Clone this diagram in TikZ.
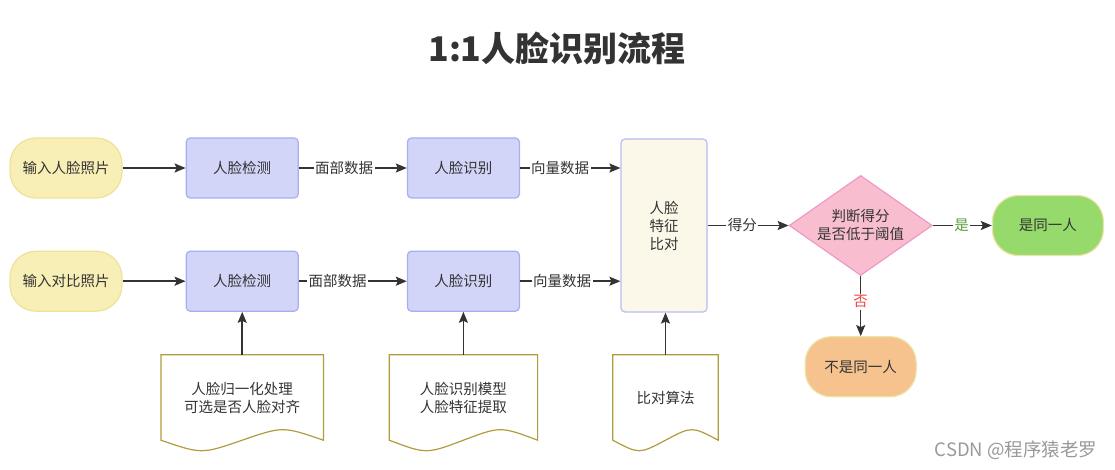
\documentclass[tikz,border=0pt]{standalone}
\usepackage{fontspec}
\setmainfont{Noto Sans CJK SC}
\usetikzlibrary{positioning, arrows.meta, calc, shapes.geometric}
\definecolor{txt}{HTML}{333333}
\definecolor{startfill}{HTML}{F8EFB6}
\definecolor{startborder}{HTML}{EEE29B}
\definecolor{stepfill}{HTML}{D2D5F8}
\definecolor{stepborder}{HTML}{A8AEF4}
\definecolor{cmpfill}{HTML}{FBF8E9}
\definecolor{cmpborder}{HTML}{B9BCF2}
\definecolor{judgefill}{HTML}{F8BED0}
\definecolor{judgeborder}{HTML}{EE98C8}
\definecolor{yesfill}{HTML}{97DA6C}
\definecolor{nofill}{HTML}{F6C38F}
\definecolor{endborder}{HTML}{EDE3A6}
\definecolor{docborder}{HTML}{B09C3E}
\definecolor{yestext}{HTML}{5A9E3A}
\definecolor{notext}{HTML}{EE4444}
\definecolor{gray60}{HTML}{999999}

\begin{document}
\begin{tikzpicture}[
    x=1pt, y=1pt,
    node distance=52pt and 63pt,
    every node/.style={text=txt, font=\fontsize{14.5pt}{18pt}\selectfont},
    startbox/.style={draw=startborder, fill=startfill, line width=1.2pt, rounded corners=26pt,
                     minimum width=112pt, minimum height=60pt},
    stepbox/.style={draw=stepborder, fill=stepfill, line width=1.2pt, rounded corners=4pt,
                    minimum width=112pt, minimum height=60pt},
    cmpbox/.style={draw=cmpborder, fill=cmpfill, line width=1.2pt, rounded corners=4pt,
                   minimum width=86pt, minimum height=173pt, align=center},
    judgebox/.style={diamond, aspect=1.43, draw=judgeborder, fill=judgefill, line width=1.2pt,
                     inner sep=1pt, minimum width=143pt, minimum height=100pt, align=center},
    endbox/.style={draw=endborder, line width=1.2pt, rounded corners=26pt,
                   minimum width=111pt, minimum height=60pt},
    docbox/.style={minimum height=85pt, align=center},
    docline/.style={draw=docborder, line width=1.2pt},
    elabel/.style={fill=white, inner sep=1.5pt},
    arrow/.style={-{Stealth[length=11pt, width=9pt, inset=2pt]}, draw=txt, line width=1.5pt},
]
\useasboundingbox (0,0) rectangle (1115,469);

% ============================================================
% Title
% ============================================================
\node[font=\fontsize{34pt}{40pt}\selectfont\bfseries] (title) at (557,421) {1:1人脸识别流程};

% ============================================================
% Two input rows
% ============================================================
\node[startbox] (in1) at (66,301) {输入人脸照片};
\node[stepbox, right=63pt of in1] (det1) {人脸检测};
\node[stepbox, right=108pt of det1] (rec1) {人脸识别};

\node[startbox, below=52pt of in1] (in2) {输入对比照片};
\node[stepbox, right=63pt of in2] (det2) {人脸检测};
\node[stepbox, right=108pt of det2] (rec2) {人脸识别};

% comparison and decision
\node[cmpbox] (cmp) at (664,243.5) {人脸\\特征\\比对};
\node[judgebox, right=81pt of cmp] (judge) {判断得分\\是否低于阈值};
\node[endbox, fill=yesfill, right=59pt of judge] (same) {是同一人};
\node[endbox, fill=nofill, below=60pt of judge] (diff) {不是同一人};

% ============================================================
% Documents (wave bottom)
% ============================================================
\node[docbox, minimum width=162pt] (doc1) at (det2 |- 0,71.5) {人脸归一化处理\\可选是否人脸对齐};
\node[docbox, minimum width=148pt] (doc2) at (rec2 |- 0,71.5) {人脸识别模型\\人脸特征提取};
\node[docbox, minimum width=105pt] (doc3) at (665.5,71.5) {比对算法};

\foreach \d in {doc1,doc2,doc3}{
  \draw[docline] (\d.north west) -- (\d.north east) -- (\d.south east)
      .. controls ($(\d.south east)!0.25!(\d.south west)+(0,14)$) .. (\d.south)
      .. controls ($(\d.south east)!0.75!(\d.south west)+(0,-14)$) .. (\d.south west) -- cycle;
}

% ============================================================
% Connectors
% ============================================================
\draw[arrow] (in1) -- (det1);
\draw[arrow] (det1) -- node[elabel, pos=0.42] {面部数据} (rec1);
\draw[arrow] (rec1) -- node[elabel, pos=0.4] {向量数据} (rec1 -| cmp.west);

\draw[arrow] (in2) -- (det2);
\draw[arrow] (det2) -- node[elabel, pos=0.36] {面部数据} (rec2);
\draw[arrow] (rec2) -- node[elabel, pos=0.42] {向量数据} (rec2 -| cmp.west);

\draw[arrow] (doc1.north) -- (det2.south);
\draw[arrow] (doc2.north) -- (rec2.south);
\draw[arrow] (doc3.north) -- (doc3.north |- cmp.south);

\draw[arrow] (cmp) -- node[elabel, pos=0.43] {得分} (judge);
\draw[arrow] (judge) -- node[elabel, pos=0.49, text=yestext] {是} (same);
\draw[arrow] (judge) -- node[elabel, pos=0.43, text=notext] {否} (diff);

% watermark
\node[anchor=east, text=gray60, font=\fontsize{18.5pt}{22pt}\selectfont] (mark) at (1101,19) {CSDN @程序猿老罗};

\end{tikzpicture}
\end{document}
